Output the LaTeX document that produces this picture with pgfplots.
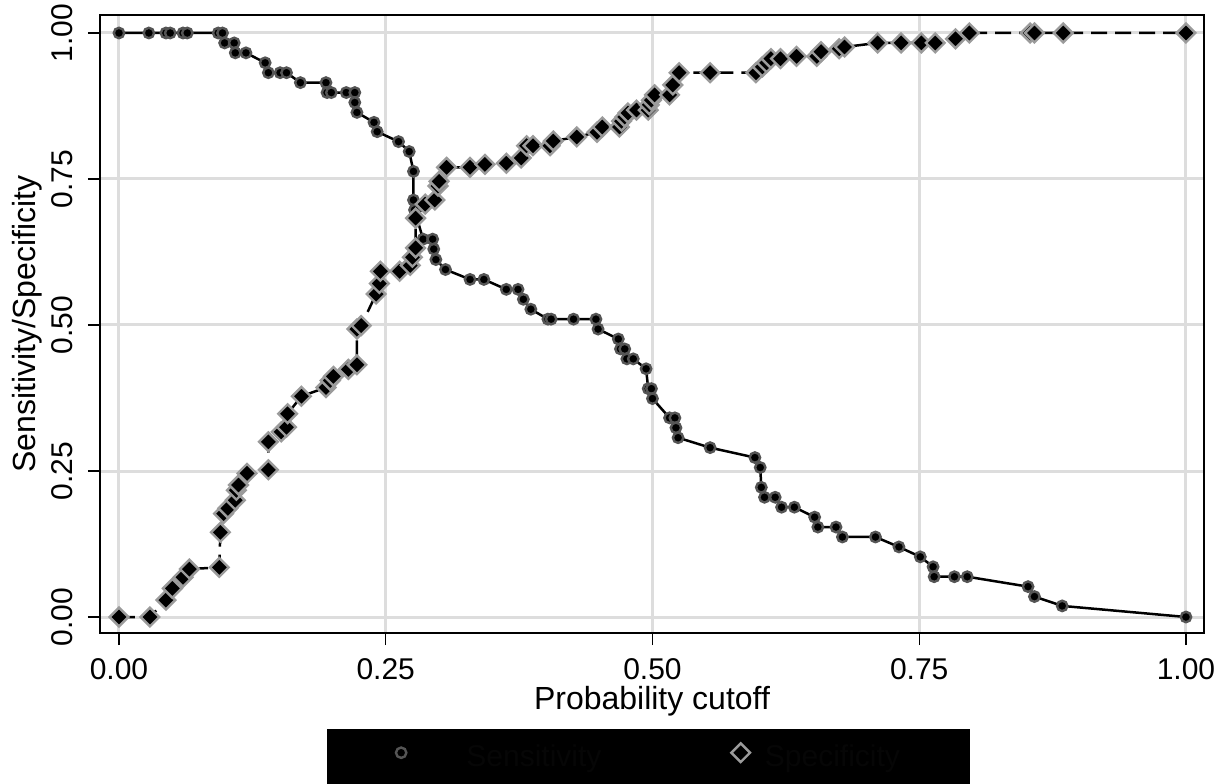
\documentclass[border=0pt]{standalone}
\usepackage{fontspec}
\setmainfont{Liberation Sans}
\usepackage{pgfplots}
\pgfplotsset{compat=1.18}
\definecolor{gridgray}{RGB}{221,221,221}
\definecolor{circedge}{RGB}{85,85,85}
\definecolor{diaedge}{RGB}{155,155,155}
\definecolor{nearblack}{RGB}{6,6,6}
\newcommand{\lbl}{\fontsize{15}{18}\selectfont}
\newcommand{\ttl}{\fontsize{16}{19}\selectfont}
\pgfplotsset{
    legsens/.style={legend image code/.code={\path (-36.5pt,0pt) -- (10pt,0pt);
        \draw[##1] plot coordinates {(0pt,3.5pt)};}},
    legspec/.style={legend image code/.code={\path (-10pt,0pt) -- (5pt,0pt);
        \draw[##1] plot coordinates {(0pt,3.5pt)};}},
}

\begin{document}
\begin{tikzpicture}
\useasboundingbox (-50pt,-75pt) rectangle (558.5pt,316.5pt);
\begin{axis}[
    at={(0pt,0pt)}, anchor=south west,
    scale only axis, width=552pt, height=309pt,
    xmin=-0.0178, xmax=1.0169, ymin=-0.0274, ymax=1.0308,
    xtick={0,0.25,0.5,0.75,1}, ytick={0,0.25,0.5,0.75,1},
    /pgf/number format/assume math mode=true,
    xticklabel style={/pgf/number format/fixed, /pgf/number format/fixed zerofill,
        /pgf/number format/precision=2, anchor=north},
    yticklabel style={/pgf/number format/fixed, /pgf/number format/fixed zerofill,
        /pgf/number format/precision=2, rotate=90, anchor=south},
    tick align=outside, major tick length=6pt,
    tick style={black, line width=0.6pt},
    xtick pos=bottom, ytick pos=left,
    grid=major, major grid style={gridgray, line width=1.5pt},
    axis line style={black, line width=0.8pt},
    ticklabel style={font=\lbl, inner sep=0pt},
    xticklabel shift=6.5pt, yticklabel shift=7.5pt,
    xlabel={Probability cutoff}, ylabel={Sensitivity/Specificity},
    label style={font=\ttl, inner sep=0pt},
    xlabel style={at={(axis description cs:0.5,-0.086)}, anchor=north},
    ylabel style={at={(axis description cs:-0.0661,0.5)}, anchor=center},
    legend columns=2,
    legend style={at={(axis description cs:0.4968,-0.1553)}, anchor=north,
        fill=black, draw=none, inner xsep=0pt, inner ysep=7pt,
        font=\lbl, text=nearblack,
        nodes={inner sep=0pt, text height=10pt, text depth=3pt},
        /tikz/column 1/.style={column sep=22pt},
        /tikz/column 2/.style={column sep=59pt},
        /tikz/column 3/.style={column sep=6.5pt}},
]
% sensitivity
\addplot[black, line width=1.25pt, mark=*, mark size=2.6pt,
    mark options={fill=black, draw=circedge, line width=1.2pt, solid}, legsens]
coordinates {
(0,1) (0.028,1) (0.044,1) (0.048,1) (0.060,1) (0.064,1) (0.093,1) (0.097,1)
(0.099,0.983) (0.108,0.983) (0.109,0.966) (0.119,0.966) (0.137,0.949)
(0.140,0.932) (0.151,0.932) (0.157,0.932) (0.170,0.915) (0.194,0.915)
(0.195,0.898) (0.199,0.898) (0.213,0.898) (0.221,0.898) (0.221,0.881)
(0.223,0.864) (0.239,0.847) (0.242,0.831) (0.262,0.814) (0.272,0.797)
(0.276,0.763) (0.276,0.714) (0.277,0.697) (0.285,0.647) (0.294,0.647)
(0.295,0.630) (0.297,0.612) (0.306,0.595) (0.329,0.578) (0.342,0.578)
(0.363,0.561) (0.374,0.561) (0.379,0.544) (0.386,0.527) (0.402,0.510)
(0.405,0.510) (0.426,0.510) (0.447,0.510) (0.449,0.493) (0.468,0.476)
(0.470,0.459) (0.474,0.459) (0.476,0.442) (0.482,0.442) (0.494,0.425)
(0.496,0.391) (0.499,0.391) (0.500,0.374) (0.516,0.341) (0.521,0.341)
(0.522,0.324) (0.524,0.307) (0.554,0.290) (0.596,0.273) (0.601,0.256)
(0.602,0.222) (0.605,0.205) (0.615,0.205) (0.621,0.188) (0.633,0.188)
(0.652,0.171) (0.655,0.154) (0.672,0.154) (0.678,0.137) (0.709,0.137)
(0.731,0.120) (0.751,0.103) (0.763,0.086) (0.764,0.069) (0.783,0.069)
(0.795,0.069) (0.852,0.052) (0.858,0.035) (0.884,0.019) (1,0)
};
\addlegendentry{Sensitivity}
% specificity
\addplot[black, line width=1.25pt, dash pattern=on 8pt off 4pt,
    mark=square*, mark size=3.3pt,
    mark options={fill=black, draw=diaedge, line width=1.2pt, solid, rotate=45}, legspec]
coordinates {
(0,0) (0.029,0) (0.044,0.029) (0.050,0.049) (0.060,0.068) (0.066,0.082)
(0.094,0.085) (0.095,0.145) (0.098,0.177) (0.102,0.186) (0.109,0.200)
(0.110,0.217) (0.112,0.226) (0.120,0.246) (0.140,0.252) (0.140,0.300)
(0.152,0.317) (0.157,0.325) (0.158,0.348) (0.171,0.378) (0.194,0.393)
(0.198,0.405) (0.201,0.412) (0.215,0.424) (0.223,0.432) (0.223,0.493)
(0.227,0.499) (0.241,0.553) (0.244,0.571) (0.245,0.592) (0.263,0.592)
(0.273,0.602) (0.275,0.616) (0.278,0.632) (0.278,0.683) (0.287,0.707)
(0.296,0.714) (0.299,0.738) (0.300,0.746) (0.307,0.770) (0.329,0.770)
(0.343,0.775) (0.363,0.777) (0.377,0.786) (0.382,0.807) (0.388,0.807)
(0.404,0.807) (0.407,0.815) (0.429,0.822) (0.448,0.830) (0.453,0.839)
(0.469,0.839) (0.471,0.849) (0.474,0.856) (0.477,0.863) (0.485,0.868)
(0.496,0.868) (0.497,0.877) (0.499,0.885) (0.502,0.894) (0.516,0.894)
(0.519,0.911) (0.525,0.932) (0.554,0.932) (0.597,0.932) (0.603,0.942)
(0.607,0.949) (0.611,0.956) (0.620,0.956) (0.635,0.960) (0.654,0.960)
(0.658,0.968) (0.675,0.973) (0.680,0.976) (0.711,0.983) (0.733,0.983)
(0.752,0.983) (0.765,0.983) (0.784,0.990) (0.797,1) (0.854,1) (0.858,1)
(0.885,1) (1,1)
};
\addlegendentry{Specificity\rule{35pt}{0pt}}
\end{axis}
\end{tikzpicture}
\end{document}
